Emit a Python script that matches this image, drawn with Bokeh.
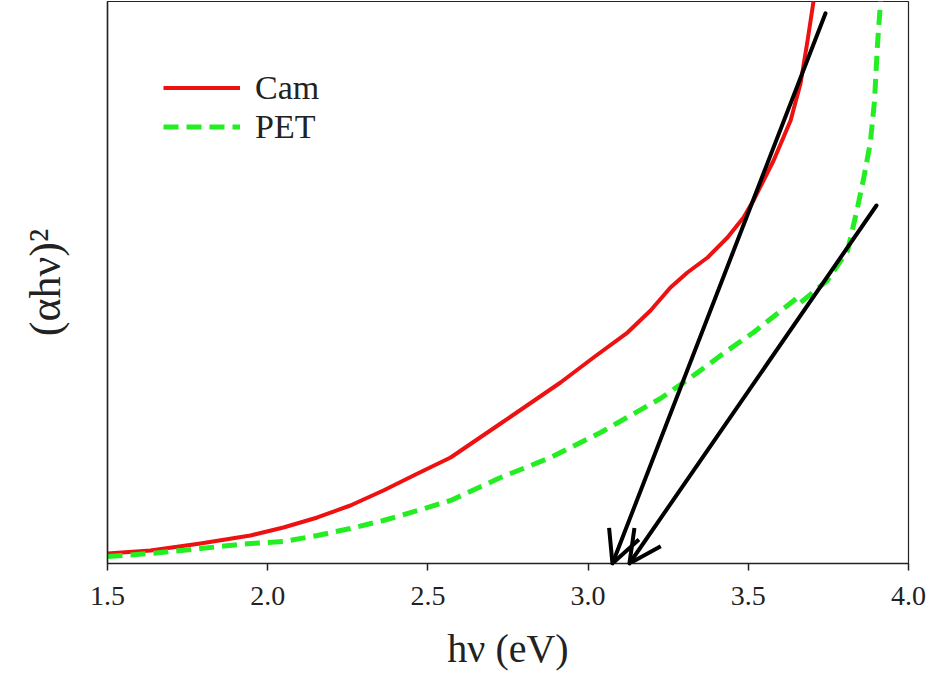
from bokeh.plotting import figure
from bokeh.models import Arrow, OpenHead, FixedTicker, Legend, LegendItem, Range1d
from bokeh.embed import file_html
from bokeh.resources import INLINE

# ---- data ----
cam_x = [1.500, 1.634, 1.790, 1.946, 2.049, 2.155, 2.258, 2.361, 2.468, 2.571,
         2.727, 2.914, 3.017, 3.123, 3.195, 3.257, 3.310, 3.373, 3.435, 3.485,
         3.516, 3.579, 3.632, 3.663, 3.685, 3.704]
cam_y = [1.78, 2.31, 3.56, 4.98, 6.41, 8.19, 10.32, 12.99, 16.01, 18.86,
         24.91, 32.21, 36.65, 41.10, 45.02, 49.11, 51.78, 54.45, 58.01, 61.57,
         64.59, 71.71, 78.83, 85.41, 93.06, 100.2]

pet_x = [1.500, 1.634, 1.790, 1.946, 2.049, 2.155, 2.258, 2.361, 2.468, 2.571,
         2.727, 2.883, 3.039, 3.226, 3.329, 3.435, 3.516, 3.654, 3.663, 3.747,
         3.810, 3.841, 3.860, 3.881, 3.894, 3.903, 3.913]
pet_y = [1.25, 1.78, 2.67, 3.56, 3.91, 4.98, 6.23, 7.65, 9.43, 11.21,
         15.30, 18.86, 23.31, 29.36, 33.45, 37.90, 41.10, 47.33, 46.44, 50.36,
         55.69, 63.35, 68.51, 74.91, 82.38, 92.17, 100.2]

# tangent (band-gap) arrows: start -> end
arrow_x_start = [3.741, 3.900]
arrow_y_start = [97.9, 63.7]
arrow_x_end = [3.076, 3.129]
arrow_y_end = [0.0, 0.0]

x_ticks = [1.5, 2.0, 2.5, 3.0, 3.5, 4.0]
x_tick_labels = ["1.5", "2.0", "2.5", "3.0", "3.5", "4.0"]

series_names = ["Cam", "PET"]
series_colors = ["#ee1111", "#22ee22"]

FONT = "Liberation Serif"

p = figure(width=933, height=697, output_backend="svg", toolbar_location=None,
           x_range=Range1d(1.5, 4.0), y_range=Range1d(0, 100),
           min_border_left=107, min_border_right=25, min_border_top=1,
           min_border_bottom=134)

p.background_fill_color = "white"
p.border_fill_color = "white"
p.outline_line_color = "#222222"
p.outline_line_width = 1.2
p.grid.visible = False

r_cam = p.line(cam_x, cam_y, line_color=series_colors[0], line_width=4,
               line_join="round")
r_pet = p.line(pet_x, pet_y, line_color=series_colors[1], line_width=5,
               line_dash="15 8", line_join="round")

for xs, ys, xe, ye in zip(arrow_x_start, arrow_y_start, arrow_x_end, arrow_y_end):
    p.add_layout(Arrow(end=OpenHead(size=32, line_width=4, line_color="black"),
                       x_start=xs, y_start=ys, x_end=xe, y_end=ye,
                       line_width=4, line_color="black", line_cap="round"))

# x axis
xa = p.xaxis[0]
xa.ticker = FixedTicker(ticks=x_ticks)
xa.major_label_overrides = {t: l for t, l in zip(x_ticks, x_tick_labels)}
xa.major_tick_out = 7
xa.major_tick_in = 0
xa.minor_tick_out = 0
xa.minor_tick_in = 0
xa.major_tick_line_color = "#222222"
xa.major_tick_line_width = 1.5
xa.axis_line_color = "#222222"
xa.axis_line_width = 1.5
xa.major_label_text_font = FONT
xa.major_label_text_font_size = "28px"
xa.major_label_text_color = "#222222"
xa.major_label_standoff = 16
xa.axis_label = "hν (eV)"
xa.axis_label_text_font = FONT
xa.axis_label_text_font_size = "40px"
xa.axis_label_text_font_style = "normal"
xa.axis_label_text_color = "#222222"
xa.axis_label_standoff = 18

# y axis
ya = p.yaxis[0]
ya.ticker = FixedTicker(ticks=[])
ya.major_tick_out = 0
ya.major_tick_in = 0
ya.minor_tick_out = 0
ya.minor_tick_in = 0
ya.major_label_text_font_size = "0px"
ya.axis_line_color = "#222222"
ya.axis_line_width = 1.5
ya.axis_label = "(αhν)²"
ya.axis_label_text_font = FONT
ya.axis_label_text_font_size = "44px"
ya.axis_label_text_font_style = "normal"
ya.axis_label_text_color = "#222222"
ya.axis_label_standoff = 38

legend = Legend(items=[LegendItem(label=series_names[0], renderers=[r_cam]),
                       LegendItem(label=series_names[1], renderers=[r_pet])],
                location=(56, 417))
legend.label_text_font = FONT
legend.label_text_font_size = "34px"
legend.label_text_color = "#222222"
legend.glyph_width = 77
legend.glyph_height = 39
legend.label_height = 39
legend.label_standoff = 15
legend.spacing = 0
legend.padding = 0
legend.margin = 0
legend.border_line_color = None
legend.background_fill_alpha = 0
p.add_layout(legend)

open("out.html", "w").write(file_html(p, INLINE))
